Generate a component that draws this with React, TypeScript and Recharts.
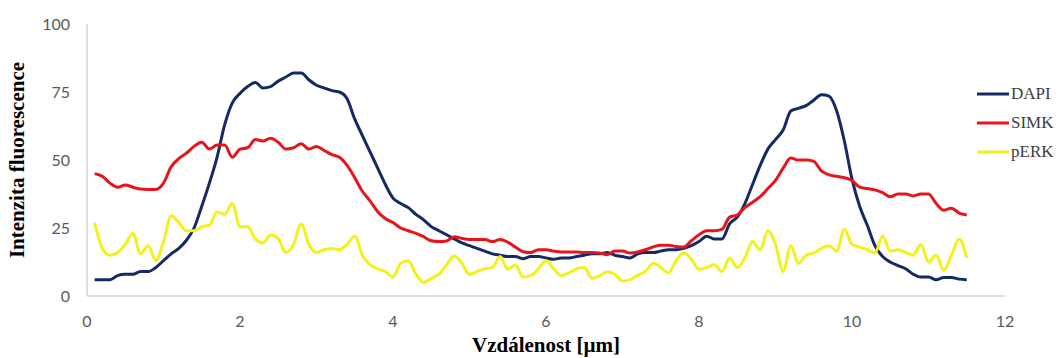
import { LineChart, Line, XAxis, YAxis } from 'recharts';

// distance along the profile [µm]
const distance = [
  0.1, 0.2, 0.3, 0.4, 0.5, 0.6, 0.7, 0.8, 0.9, 1.0,
  1.1, 1.2, 1.3, 1.4, 1.5, 1.6, 1.7, 1.8, 1.9, 2.0,
  2.1, 2.2, 2.3, 2.4, 2.5, 2.6, 2.7, 2.8, 2.9, 3.0,
  3.1, 3.2, 3.3, 3.4, 3.5, 3.6, 3.7, 3.8, 3.9, 4.0,
  4.1, 4.2, 4.3, 4.4, 4.5, 4.6, 4.7, 4.8, 4.9, 5.0,
  5.1, 5.2, 5.3, 5.4, 5.5, 5.6, 5.7, 5.8, 5.9, 6.0,
  6.1, 6.2, 6.3, 6.4, 6.5, 6.6, 6.7, 6.8, 6.9, 7.0,
  7.1, 7.2, 7.3, 7.4, 7.5, 7.6, 7.7, 7.8, 7.9, 8.0,
  8.1, 8.2, 8.3, 8.4, 8.5, 8.6, 8.7, 8.8, 8.9, 9.0,
  9.1, 9.2, 9.3, 9.4, 9.5, 9.6, 9.7, 9.8, 9.9, 10.0,
  10.1, 10.2, 10.3, 10.4, 10.5, 10.6, 10.7, 10.8, 10.9, 11.0,
  11.1, 11.2, 11.3, 11.4, 11.5,
];

const dapi = [
  6, 6, 6, 7.5, 8, 8, 9, 9, 10.5, 13,
  15.5, 17.5, 20.5, 25, 33, 41.5, 51, 63, 71, 74.5,
  77, 78.5, 76.5, 77, 79, 80.5, 82, 82, 79.5, 77.5,
  76.5, 75.5, 75, 72.5, 65, 59, 53, 47, 41, 36,
  34, 32.5, 30, 28, 25.5, 24, 22.5, 21, 19.5, 18.5,
  17.5, 16.5, 15.5, 15, 14.5, 14.5, 13.7, 14.5, 14.5, 14,
  13.5, 14, 14, 14.5, 15, 15.5, 15.5, 16, 15, 14.5,
  14, 15.5, 16, 16, 16.5, 17, 17, 17.5, 18.5, 20,
  22, 21, 21, 26.5, 29, 34, 41, 48, 54, 57.5,
  61, 68, 69, 70, 72, 74, 73.5, 68, 57, 43,
  33, 26, 18.5, 14.5, 12.5, 11.2, 10, 8, 7, 7,
  6, 6.8, 6.8, 6.2, 6,
];

const simk = [
  45, 44, 41.5, 40, 40.8, 40, 39.3, 39.2, 39.2, 41.5,
  47.5, 50.5, 52.5, 55, 56.5, 54, 55.5, 55.5, 51, 54,
  54.5, 57.5, 57, 58, 56.5, 54, 54.5, 56, 54, 55,
  53.5, 52, 51, 48, 43.5, 38.5, 35, 31, 28.5, 27,
  25, 24, 23, 21.8, 20.3, 20, 20.2, 21.8, 21.2, 20.8,
  20.8, 20.8, 20, 20.8, 19.8, 18, 16.3, 16, 17, 17,
  16.5, 16.2, 16.2, 16.2, 16, 16, 15.8, 15.2, 16.5, 16.5,
  15.8, 16.2, 17, 18, 18.7, 18.7, 18.2, 18, 20.3, 22.5,
  24, 24, 24.5, 29, 29.8, 32.5, 34.5, 36.5, 39.5, 42.5,
  47, 50.7, 50, 50, 49.5, 46, 44.5, 44, 43.5, 42.5,
  40, 39.5, 39, 38, 36.5, 37.5, 37.5, 36.8, 37.5, 37.5,
  34, 31.5, 32.3, 30.5, 29.8,
];

const perk = [
  27, 17.5, 15, 16, 19, 23, 15.5, 18.5, 13, 20,
  29.5, 27, 24, 24, 25.5, 26, 31, 30, 34, 25.5,
  25.5, 21, 19.5, 22.5, 21, 16, 19, 26.5, 19, 16,
  17, 17.5, 17, 19, 22, 15, 11.5, 10, 9, 7,
  12, 13, 8, 5, 6.5, 8, 11.5, 14.8, 12, 8,
  9, 10, 10.5, 14.5, 9.8, 11.5, 7, 7.5, 10, 13,
  10, 7.5, 8.5, 10, 10.5, 6.5, 7.5, 8.8, 8, 5.5,
  6, 7.7, 9, 12, 10.5, 8.5, 13, 15.8, 13.5, 9.8,
  10.5, 11.5, 9, 14, 10.5, 14, 20, 17, 24, 19,
  9, 18.5, 12, 15, 15.8, 17.5, 18.5, 16.5, 24.5, 19,
  18, 17, 15.8, 22, 16.5, 17, 16, 15, 19, 12.5,
  15, 9.5, 15, 21, 14,
];

const xTicks = [0, 2, 4, 6, 8, 10, 12];
const yTicks = [0, 25, 50, 75, 100];

const SERIES = [
  { key: 'DAPI', color: '#132a63' },
  { key: 'SIMK', color: '#e8141b' },
  { key: 'pERK', color: '#f2f21a' },
];

const data = distance.map((x, i) => ({
  x,
  DAPI: dapi[i],
  SIMK: simk[i],
  pERK: perk[i],
}));

const tickStyle = { fill: '#595959', fontSize: 16, fontFamily: 'Lato' };
const titleStyle = { fill: '#000', fontSize: 21, fontWeight: 700, fontFamily: '"Liberation Serif"' };

export default function App() {
  return (
    <div style={{ position: 'absolute', left: 0, top: 0, width: 1058, height: 358, background: '#fff' }}>
      <LineChart width={1058} height={358} data={data} margin={{ top: 24, right: 53, bottom: 0, left: 0 }}>
        <XAxis
          dataKey="x"
          type="number"
          domain={[0, 12]}
          ticks={xTicks}
          axisLine={{ stroke: '#bfbfbf' }}
          tickLine={false}
          tick={tickStyle}
          tickMargin={14}
          height={62}
          label={{ value: 'Vzdálenost [µm]', position: 'insideBottom', offset: 6, style: titleStyle }}
        />
        <YAxis
          type="number"
          domain={[0, 100]}
          ticks={yTicks}
          axisLine={{ stroke: '#bfbfbf' }}
          tickLine={false}
          tick={tickStyle}
          tickMargin={11}
          width={87}
          label={{
            value: 'Intenzita fluorescence',
            angle: -90,
            position: 'insideLeft',
            offset: 17,
            style: { ...titleStyle, textAnchor: 'middle' },
          }}
        />
        {SERIES.map((s) => (
          <Line
            key={s.key}
            type="monotone"
            dataKey={s.key}
            stroke={s.color}
            strokeWidth={3}
            dot={false}
            isAnimationActive={false}
          />
        ))}
      </LineChart>
      <div style={{ position: 'absolute', left: 977, top: 79 }}>
        {SERIES.map((s) => (
          <div key={s.key} style={{ display: 'flex', alignItems: 'center', height: 29 }}>
            <svg width={32} height={6}>
              <line x1={0} y1={3} x2={32} y2={3} stroke={s.color} strokeWidth={3} />
            </svg>
            <span style={{ marginLeft: 2, fontFamily: '"Liberation Serif"', fontSize: 17, color: '#404040' }}>
              {s.key}
            </span>
          </div>
        ))}
      </div>
    </div>
  );
}
